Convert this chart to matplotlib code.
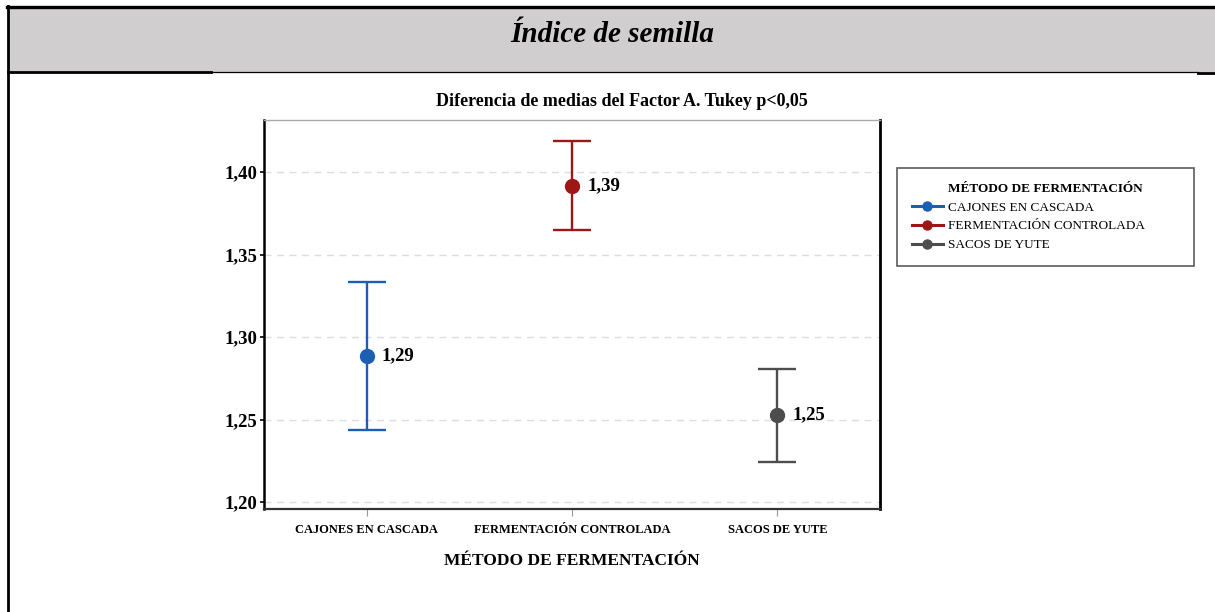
import matplotlib
matplotlib.use("Agg")
import matplotlib.pyplot as plt
from matplotlib.patches import Rectangle
from matplotlib.lines import Line2D

plt.rcParams['font.family'] = ['Liberation Serif', 'DejaVu Serif']

categories = ["CAJONES EN CASCADA", "FERMENTACIÓN CONTROLADA", "SACOS DE YUTE"]
means = [1.2885, 1.3915, 1.2527]
upper = [1.3335, 1.4190, 1.2806]
lower = [1.2436, 1.3650, 1.2242]
mean_labels = ["1,29", "1,39", "1,25"]
colors = ["#1a5fb4", "#9e1717", "#4d4d4d"]
yticks = [1.20, 1.25, 1.30, 1.35, 1.40]
ytick_labels = ["1,20", "1,25", "1,30", "1,35", "1,40"]

W, H = 1215, 612
fig = plt.figure(figsize=(W / 100, H / 100), dpi=100)

def fx(x):
    return x / W

def fy(y):
    return 1 - y / H

# table-like frame with gray header
fig.add_artist(Rectangle((fx(8), fy(72)), fx(W) - fx(8), fy(7) - fy(72),
                         transform=fig.transFigure, facecolor="#d0cece", edgecolor="none"))
fig.add_artist(Line2D([fx(7), fx(W)], [fy(7), fy(7)], transform=fig.transFigure, color="black", lw=2.4))
fig.add_artist(Line2D([fx(8), fx(8)], [fy(6), fy(H)], transform=fig.transFigure, color="black", lw=2))
fig.add_artist(Line2D([fx(8), fx(211)], [fy(72), fy(72)], transform=fig.transFigure, color="black", lw=2))
fig.add_artist(Line2D([fx(211), fx(1198)], [fy(72), fy(72)], transform=fig.transFigure, color="black", lw=0.9))
fig.add_artist(Line2D([fx(1198), fx(W)], [fy(73), fy(73)], transform=fig.transFigure, color="black", lw=2))
fig.text(fx(612), fy(35), "Índice de semilla", ha="center", va="center",
         fontsize=21, fontweight="bold", fontstyle="italic")

ax = fig.add_axes([fx(264), fy(509), fx(880) - fx(264), fy(120) - fy(509)])
x = list(range(len(categories)))
for i in x:
    ax.errorbar(x[i], means[i], yerr=[[means[i] - lower[i]], [upper[i] - means[i]]],
                fmt="o", color=colors[i], ecolor=colors[i], elinewidth=1.7,
                capsize=13.5, capthick=1.7, markersize=10, label=categories[i])
    ax.annotate(mean_labels[i], (x[i], means[i]), xytext=(11, 0), textcoords="offset points",
                ha="left", va="center", fontsize=13.5, fontweight="bold")

ax.set_xlim(-0.5, 2.5)
ax.set_ylim(1.1958, 1.4315)
ax.set_xticks(x)
ax.set_xticklabels(categories, fontsize=9, fontweight="bold")
ax.set_yticks(yticks)
ax.set_yticklabels(ytick_labels, fontsize=13.5, fontweight="bold")
ax.tick_params(axis="x", length=5, color="#999999", pad=6)
ax.tick_params(axis="y", length=3, width=1.2, color="black", pad=2)
ax.yaxis.grid(True, linestyle=(0, (5, 4)), color="#dddddd", lw=1)
ax.set_axisbelow(True)
ax.spines["left"].set_linewidth(1.8)
ax.spines["right"].set_linewidth(2)
ax.spines["top"].set_color("#aaaaaa")
ax.spines["top"].set_linewidth(1)
ax.spines["bottom"].set_color("#333333")
ax.spines["bottom"].set_linewidth(1.6)
fig.text(fx(622), fy(101), "Diferencia de medias del Factor A. Tukey p<0,05", ha="center",
         va="center", fontsize=13, fontweight="bold")
ax.set_xlabel("MÉTODO DE FERMENTACIÓN", fontsize=12.5, fontweight="bold", labelpad=12)

# legend with title row aligned to entry text
handles = [Line2D([], [], color="none")]
labels = ["MÉTODO DE FERMENTACIÓN"]
for i in x:
    handles.append(Line2D([], [], color=colors[i], marker="o", markersize=6.5, lw=2.2))
    labels.append(categories[i])
leg = fig.legend(handles, labels, loc="upper left",
                 bbox_to_anchor=(fx(897), fy(267), fx(1194) - fx(897), fy(168) - fy(267)),
                 mode="expand", fontsize=9.5, frameon=True, fancybox=False, handlelength=2.4,
                 handletextpad=0.4, labelspacing=0.5, borderpad=1.1, borderaxespad=0)
leg.get_frame().set_edgecolor("#333333")
leg.get_frame().set_linewidth(1.2)
leg.get_texts()[0].set_fontweight("bold")

fig.savefig("out.png", dpi=100)
